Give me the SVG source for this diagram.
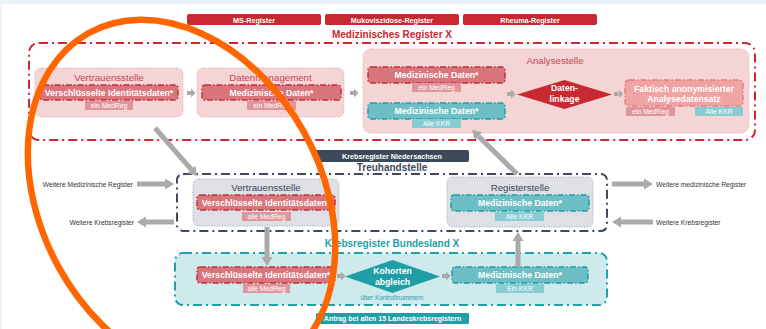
<svg xmlns="http://www.w3.org/2000/svg" width="766" height="329" viewBox="0 0 766 329">
<defs>
<style>
text{font-family:"Liberation Sans",Arial,sans-serif;}
.hdr{fill:#c8282f;}
.hdrt{fill:#fff;font-weight:bold;font-size:7.2px;text-anchor:middle;}
.pink{fill:#f5d4d6;stroke:#e3a3a9;stroke-width:1;stroke-dasharray:1 1.5;}
.grey{fill:#dfe0e6;stroke:#9ea3ad;stroke-width:1;stroke-dasharray:1 1.5;}
.ptitle{fill:#c2464f;font-size:9.7px;text-anchor:middle;}
.gtitle{fill:#3c4657;font-size:9.7px;text-anchor:middle;}
.rbar{fill:#d9757c;stroke:#c3303a;stroke-width:1.5;stroke-dasharray:6 2 1.5 2;}
.tbar{fill:#6dbfc5;stroke:#1d9ea6;stroke-width:1.5;stroke-dasharray:6 2 1.5 2;}
.bart{fill:#fff;font-weight:bold;font-size:8.7px;text-anchor:middle;}
.rtag{fill:#e0959a;}
.ttag{fill:#85cdd2;}
.tagt{fill:#fff;font-size:6.8px;text-anchor:middle;}
.redbox{fill:none;stroke:#cf2730;stroke-width:2;stroke-dasharray:9 4 2 4;}
.darkbox{fill:none;stroke:#3f4a5b;stroke-width:2;stroke-dasharray:9 4 2 4;}
.tealbox{fill:#cfeaed;stroke:#1f9fa7;stroke-width:2;stroke-dasharray:9 4 2 4;}
.side{fill:#333;font-size:6.7px;}
.arr{stroke:#aaaaaa;stroke-width:5;fill:none;marker-end:url(#ah);}
.sarr{stroke:#aaaaaa;stroke-width:4;fill:none;marker-end:url(#sah);}
</style>
<marker id="ah" viewBox="0 -6 10 12" refX="0" refY="0" markerWidth="10" markerHeight="12" markerUnits="userSpaceOnUse" orient="auto">
<path d="M0,-5.5 L9,0 L0,5.5 Z" fill="#aaaaaa"/>
</marker>
<marker id="sah" viewBox="0 -5 5 10" refX="0" refY="0" markerWidth="5" markerHeight="10" markerUnits="userSpaceOnUse" orient="auto">
<path d="M0,-4.5 L4.5,0 L0,4.5 Z" fill="#aaaaaa"/>
</marker>
</defs>

<rect x="0" y="0" width="766" height="329" fill="#e7f3f4"/>
<rect x="2" y="4" width="764" height="325" fill="#ffffff"/>

<!-- header registers -->
<g id="ms-register"><rect class="hdr" x="187" y="14" width="134" height="11" rx="2"/><text class="hdrt" x="254" y="22.5">MS-Register</text></g>
<g id="muko-register"><rect class="hdr" x="325" y="14" width="134" height="11" rx="2"/><text class="hdrt" x="392" y="22.5">Mukoviszidose-Register</text></g>
<g id="rheuma-register"><rect class="hdr" x="463" y="14" width="134" height="11" rx="2"/><text class="hdrt" x="530" y="22.5">Rheuma-Register</text></g>

<!-- Medizinisches Register X -->
<g id="med-register-x">
<rect class="redbox" x="29" y="43" width="726" height="97" rx="10"/>
<text x="392" y="37.5" fill="#c8282f" font-weight="bold" font-size="10" text-anchor="middle">Medizinisches Register X</text>
</g>

<g id="vertrauensstelle-med">
<rect class="pink" x="35" y="68" width="148" height="49" rx="6"/>
<text class="ptitle" x="109" y="81">Vertrauensstelle</text>
<rect class="rbar" x="40" y="85" width="138" height="15" rx="3"/>
<text class="bart" x="109" y="95.5">Verschlüsselte Identitätsdaten*</text>
<rect class="rtag" x="85" y="101" width="48" height="9"/>
<text class="tagt" x="109" y="108">ein MedReg</text>
</g>

<g id="datenmanagement">
<rect class="pink" x="197" y="68" width="147" height="49" rx="6"/>
<text class="ptitle" x="270.5" y="81">Datenmanagement</text>
<rect class="rbar" x="202" y="85" width="139" height="15" rx="3"/>
<text class="bart" x="271.5" y="95.5">Medizinische Daten*</text>
<rect class="rtag" x="247" y="101" width="49" height="9"/>
<text class="tagt" x="271.5" y="108">ein MedReg</text>
</g>

<g id="analysestelle">
<rect class="pink" x="363" y="49" width="386" height="84" rx="8"/>
<text class="ptitle" x="555" y="64">Analysestelle</text>
<rect class="rbar" x="368" y="67" width="137" height="16" rx="3"/>
<text class="bart" x="436.5" y="78">Medizinische Daten*</text>
<rect class="rtag" x="412" y="83" width="49" height="9"/>
<text class="tagt" x="436.5" y="90">ein MedReg</text>
<rect class="tbar" x="368" y="103" width="137" height="16" rx="3"/>
<text class="bart" x="436.5" y="114">Medizinische Daten*</text>
<rect class="ttag" x="412" y="119" width="49" height="9"/>
<text class="tagt" x="436.5" y="126">Alle KKR</text>
</g>

<g id="datenlinkage">
<polygon points="517,94.5 564.5,80 612,94.5 564.5,109" fill="#c8282f"/>
<text class="bart" x="564.5" y="91">Daten-</text>
<text class="bart" x="564.5" y="101.5">linkage</text>
</g>

<g id="analysedatensatz">
<rect x="625" y="80" width="118" height="26" rx="4" fill="#efa3a3" stroke="#e37f82" stroke-width="1.5" stroke-dasharray="6 2 1.5 2"/>
<text class="bart" x="684" y="91.5">Faktisch anonymisierter</text>
<text class="bart" x="684" y="101.5">Analysedatensatz</text>
<rect class="rtag" x="626" y="107" width="49" height="9"/>
<text class="tagt" x="650.5" y="114">ein MedReg</text>
<rect class="ttag" x="695" y="107" width="48" height="9"/>
<text class="tagt" x="719" y="114">Alle KKR</text>
</g>

<!-- Treuhandstelle -->
<g id="treuhandstelle">
<rect x="315" y="150" width="154" height="12" rx="2" fill="#3d4a5c"/>
<text x="392" y="158.7" fill="#fff" font-weight="bold" font-size="7.2" text-anchor="middle">Krebsregister Niedersachsen</text>
<text x="392" y="170.5" fill="#3d4a5c" font-weight="bold" font-size="10" text-anchor="middle">Treuhandstelle</text>
<rect class="darkbox" x="177" y="174" width="430" height="57" rx="6"/>
</g>

<g id="vertrauensstelle-treuhand">
<rect class="grey" x="193" y="179" width="146" height="47" rx="6"/>
<text class="gtitle" x="266" y="190.5">Vertrauensstelle</text>
<rect class="rbar" x="197" y="195" width="138" height="15" rx="3"/>
<text class="bart" x="266" y="205.5">Verschlüsselte Identitätsdaten*</text>
<rect class="rtag" x="242" y="212" width="49" height="9"/>
<text class="tagt" x="266.5" y="219">alle MedReg</text>
</g>

<g id="registerstelle">
<rect class="grey" x="447" y="177" width="146" height="50" rx="6"/>
<text class="gtitle" x="520" y="190.5">Registerstelle</text>
<rect class="tbar" x="451" y="195" width="138" height="16" rx="3"/>
<text class="bart" x="520" y="206">Medizinische Daten*</text>
<rect class="ttag" x="495" y="212" width="49" height="9"/>
<text class="tagt" x="519.5" y="219">Alle KKR</text>
</g>

<!-- side labels -->
<g id="weitere-med-links"><text class="side" x="133" y="186.5" text-anchor="end">Weitere Medizinische Register</text></g>
<g id="weitere-krebs-links"><text class="side" x="134" y="224.5" text-anchor="end">Weitere Krebsregister</text></g>
<g id="weitere-med-rechts"><text class="side" x="656" y="186.5">Weitere medizinische Register</text></g>
<g id="weitere-krebs-rechts"><text class="side" x="656" y="224.5">Weitere Krebsregister</text></g>

<!-- Krebsregister Bundesland X -->
<g id="krebsregister-bundesland">
<text x="392" y="247" fill="#1f9fa7" font-weight="bold" font-size="10" text-anchor="middle">Krebsregister Bundesland X</text>
<rect class="tealbox" x="175" y="253" width="432" height="52" rx="8"/>
</g>

<g id="identitaetsdaten-bl">
<rect class="rbar" x="197" y="267" width="138" height="16" rx="3"/>
<text class="bart" x="266" y="278">Verschlüsselte Identitätsdaten*</text>
<rect class="rtag" x="243" y="284" width="47" height="9"/>
<text class="tagt" x="266.5" y="291">alle MedReg</text>
</g>

<g id="kohortenabgleich">
<polygon points="345,276.5 392.5,260 440,276.5 392.5,293" fill="#1f9ea6"/>
<text class="bart" x="392.5" y="274">Kohorten</text>
<text class="bart" x="392.5" y="285">abgleich</text>
<text x="392" y="299.5" fill="#1f9fa7" font-size="6.4" text-anchor="middle">über Kontrollnummern</text>
</g>

<g id="medizinische-daten-bl">
<rect class="tbar" x="452" y="267" width="136" height="16" rx="3"/>
<text class="bart" x="520" y="278">Medizinische Daten*</text>
<rect class="ttag" x="496" y="284" width="48" height="9"/>
<text class="tagt" x="520" y="291">Ein KKR</text>
</g>

<g id="antrag">
<rect x="316" y="313" width="153" height="11" rx="1.5" fill="#1f9fa7"/>
<text x="392.5" y="321.3" fill="#fff" font-weight="bold" font-size="7" text-anchor="middle">Antrag bei allen 15 Landeskrebsregistern</text>
</g>

<!-- connectors -->
<g id="connectors">
<line class="sarr" x1="187" y1="93" x2="191" y2="93"/>
<line class="sarr" x1="350" y1="93" x2="354" y2="93"/>
<line class="sarr" x1="507" y1="94" x2="511" y2="94"/>
<line class="sarr" x1="614" y1="94" x2="618.5" y2="94"/>
<line class="sarr" x1="337" y1="276" x2="341" y2="276"/>
<line class="sarr" x1="442" y1="276" x2="446" y2="276"/>
<line class="arr" x1="155" y1="128" x2="191.2" y2="169.3"/>
<line class="arr" x1="517" y1="174" x2="478.5" y2="136.2"/>
<line class="arr" x1="267" y1="227" x2="267" y2="257"/>
<line class="arr" x1="518" y1="267" x2="518" y2="241"/>
<line class="arr" x1="137" y1="184" x2="165" y2="184"/>
<line class="arr" x1="174" y1="222" x2="146" y2="222"/>
<line class="arr" x1="612" y1="184" x2="644" y2="184"/>
<line class="arr" x1="653" y1="222" x2="621" y2="222"/>
</g>

<!-- orange annotation -->
<ellipse cx="181.5" cy="200" rx="191" ry="140" transform="rotate(60.8 181.5 200)" fill="none" stroke="#ff6600" stroke-width="6.5"/>
</svg>
